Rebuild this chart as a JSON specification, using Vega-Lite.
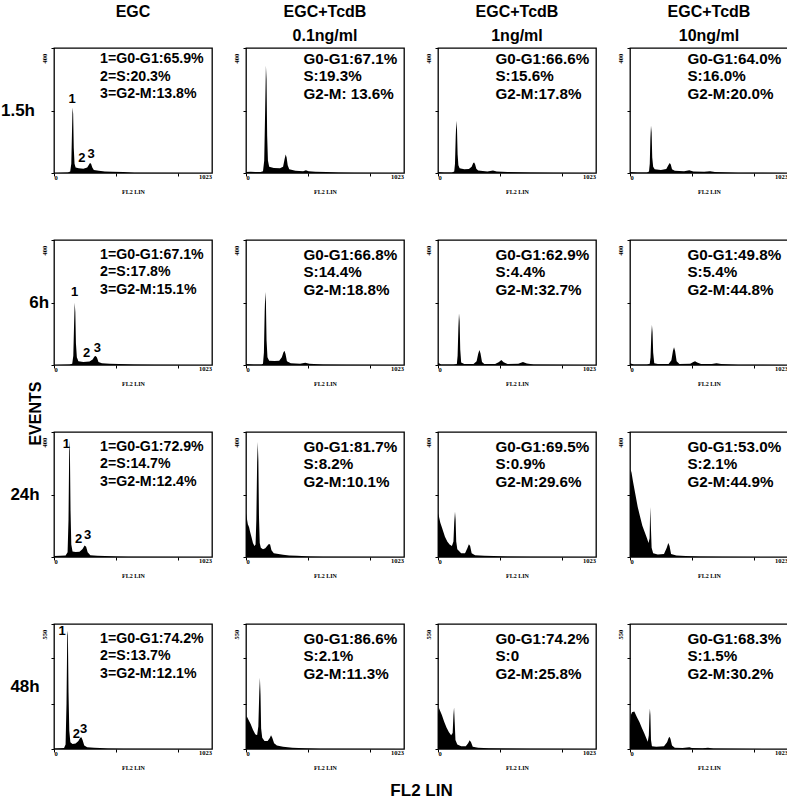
{
"$schema":"https://vega.github.io/schema/vega-lite/v6.json",
"background":"white",
"padding":{"left":0,"top":4,"right":3,"bottom":4},
"title":{"text":"EVENTS","orient":"left","anchor":"middle","font":"Liberation Sans","fontSize":16,"fontWeight":"bold","color":"black","offset":-40,"dy":3,"dx":-12},
"datasets":{"d":[
{"r":"1.5h","c":"EGC","k":"a","t":"1=G0-G1:65.9%\n2=S:20.3%\n3=G2-M:13.8%"},
{"r":"1.5h","c":"EGC+TcdB 0.1ng/ml","k":"a","t":"G0-G1:67.1%\nS:19.3%\nG2-M: 13.6%"},
{"r":"1.5h","c":"EGC+TcdB 1ng/ml","k":"a","t":"G0-G1:66.6%\nS:15.6%\nG2-M:17.8%"},
{"r":"1.5h","c":"EGC+TcdB 10ng/ml","k":"a","t":"G0-G1:64.0%\nS:16.0%\nG2-M:20.0%"},
{"r":"6h","c":"EGC","k":"a","t":"1=G0-G1:67.1%\n2=S:17.8%\n3=G2-M:15.1%"},
{"r":"6h","c":"EGC+TcdB 0.1ng/ml","k":"a","t":"G0-G1:66.8%\nS:14.4%\nG2-M:18.8%"},
{"r":"6h","c":"EGC+TcdB 1ng/ml","k":"a","t":"G0-G1:62.9%\nS:4.4%\nG2-M:32.7%"},
{"r":"6h","c":"EGC+TcdB 10ng/ml","k":"a","t":"G0-G1:49.8%\nS:5.4%\nG2-M:44.8%"},
{"r":"24h","c":"EGC","k":"a","t":"1=G0-G1:72.9%\n2=S:14.7%\n3=G2-M:12.4%"},
{"r":"24h","c":"EGC+TcdB 0.1ng/ml","k":"a","t":"G0-G1:81.7%\nS:8.2%\nG2-M:10.1%"},
{"r":"24h","c":"EGC+TcdB 1ng/ml","k":"a","t":"G0-G1:69.5%\nS:0.9%\nG2-M:29.6%"},
{"r":"24h","c":"EGC+TcdB 10ng/ml","k":"a","t":"G0-G1:53.0%\nS:2.1%\nG2-M:44.9%"},
{"r":"48h","c":"EGC","k":"a","t":"1=G0-G1:74.2%\n2=S:13.7%\n3=G2-M:12.1%"},
{"r":"48h","c":"EGC+TcdB 0.1ng/ml","k":"a","t":"G0-G1:86.6%\nS:2.1%\nG2-M:11.3%"},
{"r":"48h","c":"EGC+TcdB 1ng/ml","k":"a","t":"G0-G1:74.2%\nS:0\nG2-M:25.8%"},
{"r":"48h","c":"EGC+TcdB 10ng/ml","k":"a","t":"G0-G1:68.3%\nS:1.5%\nG2-M:30.2%"},
{"r":"1.5h","c":"EGC","k":"p","t":"1","x":117,"y":236},
{"r":"1.5h","c":"EGC","k":"p","t":"2","x":181,"y":48},
{"r":"1.5h","c":"EGC","k":"p","t":"3","x":241,"y":61},
{"r":"6h","c":"EGC","k":"p","t":"1","x":134,"y":235},
{"r":"6h","c":"EGC","k":"p","t":"2","x":211,"y":37},
{"r":"6h","c":"EGC","k":"p","t":"3","x":280,"y":56},
{"r":"24h","c":"EGC","k":"p","t":"1","x":80,"y":362},
{"r":"24h","c":"EGC","k":"p","t":"2","x":160,"y":59},
{"r":"24h","c":"EGC","k":"p","t":"3","x":218,"y":72},
{"r":"48h","c":"EGC","k":"p","t":"1","x":52,"y":520},
{"r":"48h","c":"EGC","k":"p","t":"2","x":144,"y":67},
{"r":"48h","c":"EGC","k":"p","t":"3","x":192,"y":89},

{"r":"1.5h","c":"EGC","k":"h","x":0,"y":0},{"r":"1.5h","c":"EGC","k":"h","x":90,"y":2},{"r":"1.5h","c":"EGC","k":"h","x":105,"y":5},{"r":"1.5h","c":"EGC","k":"h","x":112,"y":30},{"r":"1.5h","c":"EGC","k":"h","x":116,"y":120},{"r":"1.5h","c":"EGC","k":"h","x":120,"y":210},{"r":"1.5h","c":"EGC","k":"h","x":124,"y":190},{"r":"1.5h","c":"EGC","k":"h","x":128,"y":80},{"r":"1.5h","c":"EGC","k":"h","x":133,"y":30},{"r":"1.5h","c":"EGC","k":"h","x":140,"y":18},{"r":"1.5h","c":"EGC","k":"h","x":160,"y":15},{"r":"1.5h","c":"EGC","k":"h","x":190,"y":14},{"r":"1.5h","c":"EGC","k":"h","x":215,"y":18},{"r":"1.5h","c":"EGC","k":"h","x":225,"y":26},{"r":"1.5h","c":"EGC","k":"h","x":233,"y":32},{"r":"1.5h","c":"EGC","k":"h","x":240,"y":30},{"r":"1.5h","c":"EGC","k":"h","x":248,"y":18},{"r":"1.5h","c":"EGC","k":"h","x":258,"y":10},{"r":"1.5h","c":"EGC","k":"h","x":290,"y":7},{"r":"1.5h","c":"EGC","k":"h","x":330,"y":5},{"r":"1.5h","c":"EGC","k":"h","x":380,"y":4},{"r":"1.5h","c":"EGC","k":"h","x":450,"y":3},{"r":"1.5h","c":"EGC","k":"h","x":520,"y":1},{"r":"1.5h","c":"EGC","k":"h","x":1023,"y":0},

{"r":"1.5h","c":"EGC+TcdB 0.1ng/ml","k":"h","x":0,"y":3},{"r":"1.5h","c":"EGC+TcdB 0.1ng/ml","k":"h","x":30,"y":4},{"r":"1.5h","c":"EGC+TcdB 0.1ng/ml","k":"h","x":60,"y":3},{"r":"1.5h","c":"EGC+TcdB 0.1ng/ml","k":"h","x":95,"y":3},{"r":"1.5h","c":"EGC+TcdB 0.1ng/ml","k":"h","x":110,"y":6},{"r":"1.5h","c":"EGC+TcdB 0.1ng/ml","k":"h","x":118,"y":40},{"r":"1.5h","c":"EGC+TcdB 0.1ng/ml","k":"h","x":124,"y":200},{"r":"1.5h","c":"EGC+TcdB 0.1ng/ml","k":"h","x":129,"y":343},{"r":"1.5h","c":"EGC+TcdB 0.1ng/ml","k":"h","x":133,"y":300},{"r":"1.5h","c":"EGC+TcdB 0.1ng/ml","k":"h","x":137,"y":120},{"r":"1.5h","c":"EGC+TcdB 0.1ng/ml","k":"h","x":142,"y":40},{"r":"1.5h","c":"EGC+TcdB 0.1ng/ml","k":"h","x":150,"y":20},{"r":"1.5h","c":"EGC+TcdB 0.1ng/ml","k":"h","x":180,"y":16},{"r":"1.5h","c":"EGC+TcdB 0.1ng/ml","k":"h","x":220,"y":15},{"r":"1.5h","c":"EGC+TcdB 0.1ng/ml","k":"h","x":240,"y":20},{"r":"1.5h","c":"EGC+TcdB 0.1ng/ml","k":"h","x":250,"y":45},{"r":"1.5h","c":"EGC+TcdB 0.1ng/ml","k":"h","x":257,"y":59},{"r":"1.5h","c":"EGC+TcdB 0.1ng/ml","k":"h","x":263,"y":50},{"r":"1.5h","c":"EGC+TcdB 0.1ng/ml","k":"h","x":270,"y":25},{"r":"1.5h","c":"EGC+TcdB 0.1ng/ml","k":"h","x":280,"y":12},{"r":"1.5h","c":"EGC+TcdB 0.1ng/ml","k":"h","x":320,"y":7},{"r":"1.5h","c":"EGC+TcdB 0.1ng/ml","k":"h","x":370,"y":6},{"r":"1.5h","c":"EGC+TcdB 0.1ng/ml","k":"h","x":388,"y":9},{"r":"1.5h","c":"EGC+TcdB 0.1ng/ml","k":"h","x":405,"y":6},{"r":"1.5h","c":"EGC+TcdB 0.1ng/ml","k":"h","x":450,"y":4},{"r":"1.5h","c":"EGC+TcdB 0.1ng/ml","k":"h","x":520,"y":3},{"r":"1.5h","c":"EGC+TcdB 0.1ng/ml","k":"h","x":600,"y":2},{"r":"1.5h","c":"EGC+TcdB 0.1ng/ml","k":"h","x":700,"y":1},{"r":"1.5h","c":"EGC+TcdB 0.1ng/ml","k":"h","x":1023,"y":0},

{"r":"1.5h","c":"EGC+TcdB 1ng/ml","k":"h","x":0,"y":3},{"r":"1.5h","c":"EGC+TcdB 1ng/ml","k":"h","x":40,"y":2},{"r":"1.5h","c":"EGC+TcdB 1ng/ml","k":"h","x":90,"y":2},{"r":"1.5h","c":"EGC+TcdB 1ng/ml","k":"h","x":105,"y":5},{"r":"1.5h","c":"EGC+TcdB 1ng/ml","k":"h","x":110,"y":30},{"r":"1.5h","c":"EGC+TcdB 1ng/ml","k":"h","x":115,"y":120},{"r":"1.5h","c":"EGC+TcdB 1ng/ml","k":"h","x":119,"y":167},{"r":"1.5h","c":"EGC+TcdB 1ng/ml","k":"h","x":123,"y":140},{"r":"1.5h","c":"EGC+TcdB 1ng/ml","k":"h","x":127,"y":60},{"r":"1.5h","c":"EGC+TcdB 1ng/ml","k":"h","x":132,"y":25},{"r":"1.5h","c":"EGC+TcdB 1ng/ml","k":"h","x":140,"y":15},{"r":"1.5h","c":"EGC+TcdB 1ng/ml","k":"h","x":170,"y":12},{"r":"1.5h","c":"EGC+TcdB 1ng/ml","k":"h","x":200,"y":13},{"r":"1.5h","c":"EGC+TcdB 1ng/ml","k":"h","x":218,"y":20},{"r":"1.5h","c":"EGC+TcdB 1ng/ml","k":"h","x":228,"y":32},{"r":"1.5h","c":"EGC+TcdB 1ng/ml","k":"h","x":234,"y":34},{"r":"1.5h","c":"EGC+TcdB 1ng/ml","k":"h","x":240,"y":28},{"r":"1.5h","c":"EGC+TcdB 1ng/ml","k":"h","x":248,"y":14},{"r":"1.5h","c":"EGC+TcdB 1ng/ml","k":"h","x":260,"y":8},{"r":"1.5h","c":"EGC+TcdB 1ng/ml","k":"h","x":320,"y":5},{"r":"1.5h","c":"EGC+TcdB 1ng/ml","k":"h","x":356,"y":8},{"r":"1.5h","c":"EGC+TcdB 1ng/ml","k":"h","x":380,"y":5},{"r":"1.5h","c":"EGC+TcdB 1ng/ml","k":"h","x":450,"y":3},{"r":"1.5h","c":"EGC+TcdB 1ng/ml","k":"h","x":600,"y":2},{"r":"1.5h","c":"EGC+TcdB 1ng/ml","k":"h","x":750,"y":1},{"r":"1.5h","c":"EGC+TcdB 1ng/ml","k":"h","x":1023,"y":0},

{"r":"1.5h","c":"EGC+TcdB 10ng/ml","k":"h","x":0,"y":3},{"r":"1.5h","c":"EGC+TcdB 10ng/ml","k":"h","x":50,"y":2},{"r":"1.5h","c":"EGC+TcdB 10ng/ml","k":"h","x":110,"y":2},{"r":"1.5h","c":"EGC+TcdB 10ng/ml","k":"h","x":123,"y":5},{"r":"1.5h","c":"EGC+TcdB 10ng/ml","k":"h","x":128,"y":30},{"r":"1.5h","c":"EGC+TcdB 10ng/ml","k":"h","x":132,"y":110},{"r":"1.5h","c":"EGC+TcdB 10ng/ml","k":"h","x":136,"y":151},{"r":"1.5h","c":"EGC+TcdB 10ng/ml","k":"h","x":140,"y":130},{"r":"1.5h","c":"EGC+TcdB 10ng/ml","k":"h","x":144,"y":50},{"r":"1.5h","c":"EGC+TcdB 10ng/ml","k":"h","x":150,"y":20},{"r":"1.5h","c":"EGC+TcdB 10ng/ml","k":"h","x":160,"y":12},{"r":"1.5h","c":"EGC+TcdB 10ng/ml","k":"h","x":200,"y":10},{"r":"1.5h","c":"EGC+TcdB 10ng/ml","k":"h","x":235,"y":13},{"r":"1.5h","c":"EGC+TcdB 10ng/ml","k":"h","x":248,"y":25},{"r":"1.5h","c":"EGC+TcdB 10ng/ml","k":"h","x":257,"y":32},{"r":"1.5h","c":"EGC+TcdB 10ng/ml","k":"h","x":264,"y":27},{"r":"1.5h","c":"EGC+TcdB 10ng/ml","k":"h","x":272,"y":12},{"r":"1.5h","c":"EGC+TcdB 10ng/ml","k":"h","x":290,"y":7},{"r":"1.5h","c":"EGC+TcdB 10ng/ml","k":"h","x":350,"y":6},{"r":"1.5h","c":"EGC+TcdB 10ng/ml","k":"h","x":384,"y":9},{"r":"1.5h","c":"EGC+TcdB 10ng/ml","k":"h","x":410,"y":5},{"r":"1.5h","c":"EGC+TcdB 10ng/ml","k":"h","x":480,"y":4},{"r":"1.5h","c":"EGC+TcdB 10ng/ml","k":"h","x":518,"y":6},{"r":"1.5h","c":"EGC+TcdB 10ng/ml","k":"h","x":550,"y":3},{"r":"1.5h","c":"EGC+TcdB 10ng/ml","k":"h","x":700,"y":1},{"r":"1.5h","c":"EGC+TcdB 10ng/ml","k":"h","x":1023,"y":0},

{"r":"6h","c":"EGC","k":"h","x":0,"y":0},{"r":"6h","c":"EGC","k":"h","x":100,"y":2},{"r":"6h","c":"EGC","k":"h","x":118,"y":4},{"r":"6h","c":"EGC","k":"h","x":125,"y":30},{"r":"6h","c":"EGC","k":"h","x":130,"y":130},{"r":"6h","c":"EGC","k":"h","x":134,"y":199},{"r":"6h","c":"EGC","k":"h","x":138,"y":170},{"r":"6h","c":"EGC","k":"h","x":142,"y":70},{"r":"6h","c":"EGC","k":"h","x":148,"y":25},{"r":"6h","c":"EGC","k":"h","x":158,"y":12},{"r":"6h","c":"EGC","k":"h","x":190,"y":10},{"r":"6h","c":"EGC","k":"h","x":230,"y":11},{"r":"6h","c":"EGC","k":"h","x":250,"y":18},{"r":"6h","c":"EGC","k":"h","x":262,"y":27},{"r":"6h","c":"EGC","k":"h","x":270,"y":29},{"r":"6h","c":"EGC","k":"h","x":278,"y":24},{"r":"6h","c":"EGC","k":"h","x":288,"y":10},{"r":"6h","c":"EGC","k":"h","x":310,"y":6},{"r":"6h","c":"EGC","k":"h","x":360,"y":4},{"r":"6h","c":"EGC","k":"h","x":420,"y":3},{"r":"6h","c":"EGC","k":"h","x":520,"y":2},{"r":"6h","c":"EGC","k":"h","x":650,"y":1},{"r":"6h","c":"EGC","k":"h","x":1023,"y":0},

{"r":"6h","c":"EGC+TcdB 0.1ng/ml","k":"h","x":0,"y":3},{"r":"6h","c":"EGC+TcdB 0.1ng/ml","k":"h","x":50,"y":2},{"r":"6h","c":"EGC+TcdB 0.1ng/ml","k":"h","x":100,"y":2},{"r":"6h","c":"EGC+TcdB 0.1ng/ml","k":"h","x":110,"y":4},{"r":"6h","c":"EGC+TcdB 0.1ng/ml","k":"h","x":116,"y":40},{"r":"6h","c":"EGC+TcdB 0.1ng/ml","k":"h","x":121,"y":170},{"r":"6h","c":"EGC+TcdB 0.1ng/ml","k":"h","x":125,"y":234},{"r":"6h","c":"EGC+TcdB 0.1ng/ml","k":"h","x":129,"y":200},{"r":"6h","c":"EGC+TcdB 0.1ng/ml","k":"h","x":133,"y":80},{"r":"6h","c":"EGC+TcdB 0.1ng/ml","k":"h","x":139,"y":25},{"r":"6h","c":"EGC+TcdB 0.1ng/ml","k":"h","x":150,"y":14},{"r":"6h","c":"EGC+TcdB 0.1ng/ml","k":"h","x":185,"y":13},{"r":"6h","c":"EGC+TcdB 0.1ng/ml","k":"h","x":215,"y":14},{"r":"6h","c":"EGC+TcdB 0.1ng/ml","k":"h","x":232,"y":25},{"r":"6h","c":"EGC+TcdB 0.1ng/ml","k":"h","x":242,"y":40},{"r":"6h","c":"EGC+TcdB 0.1ng/ml","k":"h","x":249,"y":46},{"r":"6h","c":"EGC+TcdB 0.1ng/ml","k":"h","x":256,"y":35},{"r":"6h","c":"EGC+TcdB 0.1ng/ml","k":"h","x":265,"y":12},{"r":"6h","c":"EGC+TcdB 0.1ng/ml","k":"h","x":290,"y":6},{"r":"6h","c":"EGC+TcdB 0.1ng/ml","k":"h","x":350,"y":4},{"r":"6h","c":"EGC+TcdB 0.1ng/ml","k":"h","x":384,"y":7},{"r":"6h","c":"EGC+TcdB 0.1ng/ml","k":"h","x":410,"y":4},{"r":"6h","c":"EGC+TcdB 0.1ng/ml","k":"h","x":500,"y":2},{"r":"6h","c":"EGC+TcdB 0.1ng/ml","k":"h","x":650,"y":1},{"r":"6h","c":"EGC+TcdB 0.1ng/ml","k":"h","x":1023,"y":0},

{"r":"6h","c":"EGC+TcdB 1ng/ml","k":"h","x":0,"y":6},{"r":"6h","c":"EGC+TcdB 1ng/ml","k":"h","x":10,"y":5},{"r":"6h","c":"EGC+TcdB 1ng/ml","k":"h","x":20,"y":2},{"r":"6h","c":"EGC+TcdB 1ng/ml","k":"h","x":100,"y":2},{"r":"6h","c":"EGC+TcdB 1ng/ml","k":"h","x":122,"y":3},{"r":"6h","c":"EGC+TcdB 1ng/ml","k":"h","x":127,"y":30},{"r":"6h","c":"EGC+TcdB 1ng/ml","k":"h","x":132,"y":120},{"r":"6h","c":"EGC+TcdB 1ng/ml","k":"h","x":136,"y":165},{"r":"6h","c":"EGC+TcdB 1ng/ml","k":"h","x":140,"y":140},{"r":"6h","c":"EGC+TcdB 1ng/ml","k":"h","x":144,"y":50},{"r":"6h","c":"EGC+TcdB 1ng/ml","k":"h","x":150,"y":8},{"r":"6h","c":"EGC+TcdB 1ng/ml","k":"h","x":170,"y":3},{"r":"6h","c":"EGC+TcdB 1ng/ml","k":"h","x":230,"y":3},{"r":"6h","c":"EGC+TcdB 1ng/ml","k":"h","x":250,"y":12},{"r":"6h","c":"EGC+TcdB 1ng/ml","k":"h","x":260,"y":35},{"r":"6h","c":"EGC+TcdB 1ng/ml","k":"h","x":268,"y":48},{"r":"6h","c":"EGC+TcdB 1ng/ml","k":"h","x":275,"y":38},{"r":"6h","c":"EGC+TcdB 1ng/ml","k":"h","x":285,"y":10},{"r":"6h","c":"EGC+TcdB 1ng/ml","k":"h","x":300,"y":3},{"r":"6h","c":"EGC+TcdB 1ng/ml","k":"h","x":370,"y":3},{"r":"6h","c":"EGC+TcdB 1ng/ml","k":"h","x":395,"y":10},{"r":"6h","c":"EGC+TcdB 1ng/ml","k":"h","x":410,"y":16},{"r":"6h","c":"EGC+TcdB 1ng/ml","k":"h","x":425,"y":9},{"r":"6h","c":"EGC+TcdB 1ng/ml","k":"h","x":450,"y":3},{"r":"6h","c":"EGC+TcdB 1ng/ml","k":"h","x":520,"y":4},{"r":"6h","c":"EGC+TcdB 1ng/ml","k":"h","x":550,"y":10},{"r":"6h","c":"EGC+TcdB 1ng/ml","k":"h","x":575,"y":5},{"r":"6h","c":"EGC+TcdB 1ng/ml","k":"h","x":620,"y":2},{"r":"6h","c":"EGC+TcdB 1ng/ml","k":"h","x":800,"y":1},{"r":"6h","c":"EGC+TcdB 1ng/ml","k":"h","x":1023,"y":0},

{"r":"6h","c":"EGC+TcdB 10ng/ml","k":"h","x":0,"y":5},{"r":"6h","c":"EGC+TcdB 10ng/ml","k":"h","x":10,"y":4},{"r":"6h","c":"EGC+TcdB 10ng/ml","k":"h","x":25,"y":2},{"r":"6h","c":"EGC+TcdB 10ng/ml","k":"h","x":110,"y":2},{"r":"6h","c":"EGC+TcdB 10ng/ml","k":"h","x":128,"y":4},{"r":"6h","c":"EGC+TcdB 10ng/ml","k":"h","x":133,"y":25},{"r":"6h","c":"EGC+TcdB 10ng/ml","k":"h","x":138,"y":95},{"r":"6h","c":"EGC+TcdB 10ng/ml","k":"h","x":142,"y":128},{"r":"6h","c":"EGC+TcdB 10ng/ml","k":"h","x":146,"y":105},{"r":"6h","c":"EGC+TcdB 10ng/ml","k":"h","x":150,"y":40},{"r":"6h","c":"EGC+TcdB 10ng/ml","k":"h","x":157,"y":6},{"r":"6h","c":"EGC+TcdB 10ng/ml","k":"h","x":180,"y":3},{"r":"6h","c":"EGC+TcdB 10ng/ml","k":"h","x":250,"y":3},{"r":"6h","c":"EGC+TcdB 10ng/ml","k":"h","x":268,"y":15},{"r":"6h","c":"EGC+TcdB 10ng/ml","k":"h","x":278,"y":45},{"r":"6h","c":"EGC+TcdB 10ng/ml","k":"h","x":285,"y":57},{"r":"6h","c":"EGC+TcdB 10ng/ml","k":"h","x":292,"y":45},{"r":"6h","c":"EGC+TcdB 10ng/ml","k":"h","x":302,"y":12},{"r":"6h","c":"EGC+TcdB 10ng/ml","k":"h","x":320,"y":3},{"r":"6h","c":"EGC+TcdB 10ng/ml","k":"h","x":390,"y":4},{"r":"6h","c":"EGC+TcdB 10ng/ml","k":"h","x":410,"y":10},{"r":"6h","c":"EGC+TcdB 10ng/ml","k":"h","x":421,"y":12},{"r":"6h","c":"EGC+TcdB 10ng/ml","k":"h","x":435,"y":8},{"r":"6h","c":"EGC+TcdB 10ng/ml","k":"h","x":460,"y":3},{"r":"6h","c":"EGC+TcdB 10ng/ml","k":"h","x":530,"y":3},{"r":"6h","c":"EGC+TcdB 10ng/ml","k":"h","x":560,"y":6},{"r":"6h","c":"EGC+TcdB 10ng/ml","k":"h","x":590,"y":3},{"r":"6h","c":"EGC+TcdB 10ng/ml","k":"h","x":700,"y":1},{"r":"6h","c":"EGC+TcdB 10ng/ml","k":"h","x":1023,"y":0},

{"r":"24h","c":"EGC","k":"h","x":0,"y":3},{"r":"24h","c":"EGC","k":"h","x":40,"y":4},{"r":"24h","c":"EGC","k":"h","x":75,"y":5},{"r":"24h","c":"EGC","k":"h","x":88,"y":15},{"r":"24h","c":"EGC","k":"h","x":94,"y":120},{"r":"24h","c":"EGC","k":"h","x":99,"y":372},{"r":"24h","c":"EGC","k":"h","x":103,"y":340},{"r":"24h","c":"EGC","k":"h","x":107,"y":150},{"r":"24h","c":"EGC","k":"h","x":112,"y":40},{"r":"24h","c":"EGC","k":"h","x":120,"y":18},{"r":"24h","c":"EGC","k":"h","x":140,"y":16},{"r":"24h","c":"EGC","k":"h","x":165,"y":17},{"r":"24h","c":"EGC","k":"h","x":185,"y":26},{"r":"24h","c":"EGC","k":"h","x":198,"y":37},{"r":"24h","c":"EGC","k":"h","x":208,"y":33},{"r":"24h","c":"EGC","k":"h","x":218,"y":15},{"r":"24h","c":"EGC","k":"h","x":235,"y":6},{"r":"24h","c":"EGC","k":"h","x":280,"y":4},{"r":"24h","c":"EGC","k":"h","x":330,"y":3},{"r":"24h","c":"EGC","k":"h","x":408,"y":2},{"r":"24h","c":"EGC","k":"h","x":480,"y":1},{"r":"24h","c":"EGC","k":"h","x":1023,"y":0},

{"r":"24h","c":"EGC+TcdB 0.1ng/ml","k":"h","x":0,"y":140},{"r":"24h","c":"EGC+TcdB 0.1ng/ml","k":"h","x":5,"y":125},{"r":"24h","c":"EGC+TcdB 0.1ng/ml","k":"h","x":12,"y":105},{"r":"24h","c":"EGC+TcdB 0.1ng/ml","k":"h","x":20,"y":95},{"r":"24h","c":"EGC+TcdB 0.1ng/ml","k":"h","x":26,"y":82},{"r":"24h","c":"EGC+TcdB 0.1ng/ml","k":"h","x":35,"y":65},{"r":"24h","c":"EGC+TcdB 0.1ng/ml","k":"h","x":45,"y":45},{"r":"24h","c":"EGC+TcdB 0.1ng/ml","k":"h","x":55,"y":35},{"r":"24h","c":"EGC+TcdB 0.1ng/ml","k":"h","x":62,"y":40},{"r":"24h","c":"EGC+TcdB 0.1ng/ml","k":"h","x":67,"y":120},{"r":"24h","c":"EGC+TcdB 0.1ng/ml","k":"h","x":72,"y":300},{"r":"24h","c":"EGC+TcdB 0.1ng/ml","k":"h","x":76,"y":368},{"r":"24h","c":"EGC+TcdB 0.1ng/ml","k":"h","x":80,"y":310},{"r":"24h","c":"EGC+TcdB 0.1ng/ml","k":"h","x":84,"y":130},{"r":"24h","c":"EGC+TcdB 0.1ng/ml","k":"h","x":89,"y":45},{"r":"24h","c":"EGC+TcdB 0.1ng/ml","k":"h","x":96,"y":30},{"r":"24h","c":"EGC+TcdB 0.1ng/ml","k":"h","x":110,"y":25},{"r":"24h","c":"EGC+TcdB 0.1ng/ml","k":"h","x":125,"y":28},{"r":"24h","c":"EGC+TcdB 0.1ng/ml","k":"h","x":138,"y":36},{"r":"24h","c":"EGC+TcdB 0.1ng/ml","k":"h","x":148,"y":42},{"r":"24h","c":"EGC+TcdB 0.1ng/ml","k":"h","x":156,"y":40},{"r":"24h","c":"EGC+TcdB 0.1ng/ml","k":"h","x":165,"y":22},{"r":"24h","c":"EGC+TcdB 0.1ng/ml","k":"h","x":180,"y":12},{"r":"24h","c":"EGC+TcdB 0.1ng/ml","k":"h","x":210,"y":10},{"r":"24h","c":"EGC+TcdB 0.1ng/ml","k":"h","x":240,"y":7},{"r":"24h","c":"EGC+TcdB 0.1ng/ml","k":"h","x":280,"y":5},{"r":"24h","c":"EGC+TcdB 0.1ng/ml","k":"h","x":330,"y":4},{"r":"24h","c":"EGC+TcdB 0.1ng/ml","k":"h","x":420,"y":2},{"r":"24h","c":"EGC+TcdB 0.1ng/ml","k":"h","x":500,"y":1},{"r":"24h","c":"EGC+TcdB 0.1ng/ml","k":"h","x":1023,"y":0},

{"r":"24h","c":"EGC+TcdB 1ng/ml","k":"h","x":0,"y":140},{"r":"24h","c":"EGC+TcdB 1ng/ml","k":"h","x":6,"y":130},{"r":"24h","c":"EGC+TcdB 1ng/ml","k":"h","x":15,"y":110},{"r":"24h","c":"EGC+TcdB 1ng/ml","k":"h","x":25,"y":95},{"r":"24h","c":"EGC+TcdB 1ng/ml","k":"h","x":35,"y":80},{"r":"24h","c":"EGC+TcdB 1ng/ml","k":"h","x":45,"y":65},{"r":"24h","c":"EGC+TcdB 1ng/ml","k":"h","x":60,"y":50},{"r":"24h","c":"EGC+TcdB 1ng/ml","k":"h","x":75,"y":40},{"r":"24h","c":"EGC+TcdB 1ng/ml","k":"h","x":90,"y":35},{"r":"24h","c":"EGC+TcdB 1ng/ml","k":"h","x":100,"y":50},{"r":"24h","c":"EGC+TcdB 1ng/ml","k":"h","x":105,"y":110},{"r":"24h","c":"EGC+TcdB 1ng/ml","k":"h","x":110,"y":145},{"r":"24h","c":"EGC+TcdB 1ng/ml","k":"h","x":114,"y":120},{"r":"24h","c":"EGC+TcdB 1ng/ml","k":"h","x":118,"y":50},{"r":"24h","c":"EGC+TcdB 1ng/ml","k":"h","x":125,"y":25},{"r":"24h","c":"EGC+TcdB 1ng/ml","k":"h","x":150,"y":12},{"r":"24h","c":"EGC+TcdB 1ng/ml","k":"h","x":175,"y":12},{"r":"24h","c":"EGC+TcdB 1ng/ml","k":"h","x":190,"y":28},{"r":"24h","c":"EGC+TcdB 1ng/ml","k":"h","x":200,"y":41},{"r":"24h","c":"EGC+TcdB 1ng/ml","k":"h","x":208,"y":35},{"r":"24h","c":"EGC+TcdB 1ng/ml","k":"h","x":218,"y":12},{"r":"24h","c":"EGC+TcdB 1ng/ml","k":"h","x":240,"y":6},{"r":"24h","c":"EGC+TcdB 1ng/ml","k":"h","x":300,"y":4},{"r":"24h","c":"EGC+TcdB 1ng/ml","k":"h","x":360,"y":3},{"r":"24h","c":"EGC+TcdB 1ng/ml","k":"h","x":450,"y":2},{"r":"24h","c":"EGC+TcdB 1ng/ml","k":"h","x":600,"y":1},{"r":"24h","c":"EGC+TcdB 1ng/ml","k":"h","x":1023,"y":0},

{"r":"24h","c":"EGC+TcdB 10ng/ml","k":"h","x":0,"y":200},{"r":"24h","c":"EGC+TcdB 10ng/ml","k":"h","x":4,"y":280},{"r":"24h","c":"EGC+TcdB 10ng/ml","k":"h","x":10,"y":270},{"r":"24h","c":"EGC+TcdB 10ng/ml","k":"h","x":20,"y":240},{"r":"24h","c":"EGC+TcdB 10ng/ml","k":"h","x":35,"y":200},{"r":"24h","c":"EGC+TcdB 10ng/ml","k":"h","x":50,"y":160},{"r":"24h","c":"EGC+TcdB 10ng/ml","k":"h","x":65,"y":130},{"r":"24h","c":"EGC+TcdB 10ng/ml","k":"h","x":80,"y":100},{"r":"24h","c":"EGC+TcdB 10ng/ml","k":"h","x":95,"y":80},{"r":"24h","c":"EGC+TcdB 10ng/ml","k":"h","x":110,"y":60},{"r":"24h","c":"EGC+TcdB 10ng/ml","k":"h","x":120,"y":45},{"r":"24h","c":"EGC+TcdB 10ng/ml","k":"h","x":127,"y":60},{"r":"24h","c":"EGC+TcdB 10ng/ml","k":"h","x":131,"y":160},{"r":"24h","c":"EGC+TcdB 10ng/ml","k":"h","x":135,"y":100},{"r":"24h","c":"EGC+TcdB 10ng/ml","k":"h","x":140,"y":30},{"r":"24h","c":"EGC+TcdB 10ng/ml","k":"h","x":150,"y":12},{"r":"24h","c":"EGC+TcdB 10ng/ml","k":"h","x":180,"y":8},{"r":"24h","c":"EGC+TcdB 10ng/ml","k":"h","x":220,"y":10},{"r":"24h","c":"EGC+TcdB 10ng/ml","k":"h","x":238,"y":30},{"r":"24h","c":"EGC+TcdB 10ng/ml","k":"h","x":248,"y":45},{"r":"24h","c":"EGC+TcdB 10ng/ml","k":"h","x":256,"y":35},{"r":"24h","c":"EGC+TcdB 10ng/ml","k":"h","x":266,"y":10},{"r":"24h","c":"EGC+TcdB 10ng/ml","k":"h","x":300,"y":5},{"r":"24h","c":"EGC+TcdB 10ng/ml","k":"h","x":360,"y":3},{"r":"24h","c":"EGC+TcdB 10ng/ml","k":"h","x":450,"y":2},{"r":"24h","c":"EGC+TcdB 10ng/ml","k":"h","x":600,"y":1},{"r":"24h","c":"EGC+TcdB 10ng/ml","k":"h","x":1023,"y":0},

{"r":"48h","c":"EGC","k":"h","x":0,"y":2},{"r":"48h","c":"EGC","k":"h","x":40,"y":3},{"r":"48h","c":"EGC","k":"h","x":65,"y":4},{"r":"48h","c":"EGC","k":"h","x":75,"y":20},{"r":"48h","c":"EGC","k":"h","x":81,"y":200},{"r":"48h","c":"EGC","k":"h","x":86,"y":520},{"r":"48h","c":"EGC","k":"h","x":90,"y":500},{"r":"48h","c":"EGC","k":"h","x":94,"y":250},{"r":"48h","c":"EGC","k":"h","x":99,"y":80},{"r":"48h","c":"EGC","k":"h","x":106,"y":30},{"r":"48h","c":"EGC","k":"h","x":120,"y":22},{"r":"48h","c":"EGC","k":"h","x":140,"y":24},{"r":"48h","c":"EGC","k":"h","x":158,"y":35},{"r":"48h","c":"EGC","k":"h","x":170,"y":50},{"r":"48h","c":"EGC","k":"h","x":177,"y":52},{"r":"48h","c":"EGC","k":"h","x":185,"y":40},{"r":"48h","c":"EGC","k":"h","x":196,"y":15},{"r":"48h","c":"EGC","k":"h","x":215,"y":8},{"r":"48h","c":"EGC","k":"h","x":260,"y":6},{"r":"48h","c":"EGC","k":"h","x":298,"y":4},{"r":"48h","c":"EGC","k":"h","x":350,"y":2},{"r":"48h","c":"EGC","k":"h","x":450,"y":1},{"r":"48h","c":"EGC","k":"h","x":1023,"y":0},

{"r":"48h","c":"EGC+TcdB 0.1ng/ml","k":"h","x":0,"y":130},{"r":"48h","c":"EGC+TcdB 0.1ng/ml","k":"h","x":5,"y":144},{"r":"48h","c":"EGC+TcdB 0.1ng/ml","k":"h","x":15,"y":130},{"r":"48h","c":"EGC+TcdB 0.1ng/ml","k":"h","x":30,"y":110},{"r":"48h","c":"EGC+TcdB 0.1ng/ml","k":"h","x":45,"y":85},{"r":"48h","c":"EGC+TcdB 0.1ng/ml","k":"h","x":60,"y":65},{"r":"48h","c":"EGC+TcdB 0.1ng/ml","k":"h","x":72,"y":60},{"r":"48h","c":"EGC+TcdB 0.1ng/ml","k":"h","x":80,"y":100},{"r":"48h","c":"EGC+TcdB 0.1ng/ml","k":"h","x":86,"y":250},{"r":"48h","c":"EGC+TcdB 0.1ng/ml","k":"h","x":90,"y":313},{"r":"48h","c":"EGC+TcdB 0.1ng/ml","k":"h","x":94,"y":240},{"r":"48h","c":"EGC+TcdB 0.1ng/ml","k":"h","x":98,"y":90},{"r":"48h","c":"EGC+TcdB 0.1ng/ml","k":"h","x":105,"y":50},{"r":"48h","c":"EGC+TcdB 0.1ng/ml","k":"h","x":120,"y":35},{"r":"48h","c":"EGC+TcdB 0.1ng/ml","k":"h","x":140,"y":35},{"r":"48h","c":"EGC+TcdB 0.1ng/ml","k":"h","x":155,"y":50},{"r":"48h","c":"EGC+TcdB 0.1ng/ml","k":"h","x":162,"y":61},{"r":"48h","c":"EGC+TcdB 0.1ng/ml","k":"h","x":170,"y":50},{"r":"48h","c":"EGC+TcdB 0.1ng/ml","k":"h","x":182,"y":25},{"r":"48h","c":"EGC+TcdB 0.1ng/ml","k":"h","x":200,"y":15},{"r":"48h","c":"EGC+TcdB 0.1ng/ml","k":"h","x":240,"y":10},{"r":"48h","c":"EGC+TcdB 0.1ng/ml","k":"h","x":300,"y":6},{"r":"48h","c":"EGC+TcdB 0.1ng/ml","k":"h","x":380,"y":3},{"r":"48h","c":"EGC+TcdB 0.1ng/ml","k":"h","x":480,"y":1},{"r":"48h","c":"EGC+TcdB 0.1ng/ml","k":"h","x":1023,"y":0},

{"r":"48h","c":"EGC+TcdB 1ng/ml","k":"h","x":0,"y":150},{"r":"48h","c":"EGC+TcdB 1ng/ml","k":"h","x":5,"y":183},{"r":"48h","c":"EGC+TcdB 1ng/ml","k":"h","x":12,"y":170},{"r":"48h","c":"EGC+TcdB 1ng/ml","k":"h","x":25,"y":150},{"r":"48h","c":"EGC+TcdB 1ng/ml","k":"h","x":40,"y":120},{"r":"48h","c":"EGC+TcdB 1ng/ml","k":"h","x":55,"y":95},{"r":"48h","c":"EGC+TcdB 1ng/ml","k":"h","x":70,"y":75},{"r":"48h","c":"EGC+TcdB 1ng/ml","k":"h","x":85,"y":60},{"r":"48h","c":"EGC+TcdB 1ng/ml","k":"h","x":95,"y":70},{"r":"48h","c":"EGC+TcdB 1ng/ml","k":"h","x":100,"y":150},{"r":"48h","c":"EGC+TcdB 1ng/ml","k":"h","x":104,"y":183},{"r":"48h","c":"EGC+TcdB 1ng/ml","k":"h","x":108,"y":120},{"r":"48h","c":"EGC+TcdB 1ng/ml","k":"h","x":113,"y":40},{"r":"48h","c":"EGC+TcdB 1ng/ml","k":"h","x":125,"y":20},{"r":"48h","c":"EGC+TcdB 1ng/ml","k":"h","x":150,"y":12},{"r":"48h","c":"EGC+TcdB 1ng/ml","k":"h","x":180,"y":12},{"r":"48h","c":"EGC+TcdB 1ng/ml","k":"h","x":195,"y":25},{"r":"48h","c":"EGC+TcdB 1ng/ml","k":"h","x":205,"y":39},{"r":"48h","c":"EGC+TcdB 1ng/ml","k":"h","x":214,"y":30},{"r":"48h","c":"EGC+TcdB 1ng/ml","k":"h","x":225,"y":10},{"r":"48h","c":"EGC+TcdB 1ng/ml","k":"h","x":260,"y":5},{"r":"48h","c":"EGC+TcdB 1ng/ml","k":"h","x":330,"y":3},{"r":"48h","c":"EGC+TcdB 1ng/ml","k":"h","x":450,"y":2},{"r":"48h","c":"EGC+TcdB 1ng/ml","k":"h","x":600,"y":1},{"r":"48h","c":"EGC+TcdB 1ng/ml","k":"h","x":1023,"y":0},

{"r":"48h","c":"EGC+TcdB 10ng/ml","k":"h","x":0,"y":100},{"r":"48h","c":"EGC+TcdB 10ng/ml","k":"h","x":6,"y":150},{"r":"48h","c":"EGC+TcdB 10ng/ml","k":"h","x":13,"y":162},{"r":"48h","c":"EGC+TcdB 10ng/ml","k":"h","x":28,"y":165},{"r":"48h","c":"EGC+TcdB 10ng/ml","k":"h","x":45,"y":140},{"r":"48h","c":"EGC+TcdB 10ng/ml","k":"h","x":61,"y":119},{"r":"48h","c":"EGC+TcdB 10ng/ml","k":"h","x":77,"y":92},{"r":"48h","c":"EGC+TcdB 10ng/ml","k":"h","x":93,"y":68},{"r":"48h","c":"EGC+TcdB 10ng/ml","k":"h","x":105,"y":48},{"r":"48h","c":"EGC+TcdB 10ng/ml","k":"h","x":115,"y":32},{"r":"48h","c":"EGC+TcdB 10ng/ml","k":"h","x":122,"y":60},{"r":"48h","c":"EGC+TcdB 10ng/ml","k":"h","x":126,"y":150},{"r":"48h","c":"EGC+TcdB 10ng/ml","k":"h","x":129,"y":177},{"r":"48h","c":"EGC+TcdB 10ng/ml","k":"h","x":132,"y":150},{"r":"48h","c":"EGC+TcdB 10ng/ml","k":"h","x":136,"y":40},{"r":"48h","c":"EGC+TcdB 10ng/ml","k":"h","x":142,"y":12},{"r":"48h","c":"EGC+TcdB 10ng/ml","k":"h","x":170,"y":10},{"r":"48h","c":"EGC+TcdB 10ng/ml","k":"h","x":220,"y":12},{"r":"48h","c":"EGC+TcdB 10ng/ml","k":"h","x":240,"y":30},{"r":"48h","c":"EGC+TcdB 10ng/ml","k":"h","x":250,"y":48},{"r":"48h","c":"EGC+TcdB 10ng/ml","k":"h","x":255,"y":54},{"r":"48h","c":"EGC+TcdB 10ng/ml","k":"h","x":262,"y":45},{"r":"48h","c":"EGC+TcdB 10ng/ml","k":"h","x":272,"y":15},{"r":"48h","c":"EGC+TcdB 10ng/ml","k":"h","x":290,"y":6},{"r":"48h","c":"EGC+TcdB 10ng/ml","k":"h","x":340,"y":4},{"r":"48h","c":"EGC+TcdB 10ng/ml","k":"h","x":385,"y":8},{"r":"48h","c":"EGC+TcdB 10ng/ml","k":"h","x":400,"y":4},{"r":"48h","c":"EGC+TcdB 10ng/ml","k":"h","x":470,"y":3},{"r":"48h","c":"EGC+TcdB 10ng/ml","k":"h","x":505,"y":5},{"r":"48h","c":"EGC+TcdB 10ng/ml","k":"h","x":540,"y":2},{"r":"48h","c":"EGC+TcdB 10ng/ml","k":"h","x":700,"y":1},{"r":"48h","c":"EGC+TcdB 10ng/ml","k":"h","x":1023,"y":0}
]},
"spacing":42,
"vconcat":[
{
"data":{"name":"d"},
"transform":[{"filter":"datum.r=='1.5h'"}],
"spacing":{"column":19,"row":0},
"facet":{
 "row":{"field":"r","type":"nominal","header":{"title":null,"labelAngle":0,"labelAlign":"right","labelFontSize":17,"labelPadding":-29}},
 "column":{"field":"c","type":"nominal","sort":["EGC","EGC+TcdB 0.1ng/ml","EGC+TcdB 1ng/ml","EGC+TcdB 10ng/ml"],"header":{"title":null,"labelExpr":"datum.value=='EGC' ? ['EGC',' '] : split(datum.value,' ')","labelFontSize":16,"labelLineHeight":24,"labelPadding":2}}
},
"spec":{"width":158,"height":125,"layer":[
 {"transform":[{"filter":"datum.k=='h'"}],"mark":{"type":"area","color":"black","interpolate":"linear"},
  "encoding":{
   "x":{"field":"x","type":"quantitative","scale":{"domain":[0,1023],"nice":false,"zero":false},"axis":{"values":[0,100,200,300,400,500,600,700,800,900,1000],"labelExpr":"datum.value<1 ? '0' : ''","labelFlush":true,"labelOverlap":false,"labelBound":false,"title":"FL2 LIN","titlePadding":8,"labelPadding":-2}},
   "y":{"field":"y","type":"quantitative","scale":{"domain":[0,400],"nice":false},"axis":{"values":[0,100,200,300,400],"labelExpr":"datum.value==400 ? '400' : ''","labelAngle":270,"labelAlign":"center","labelBaseline":"bottom","labelOffset":10,"labelPadding":4,"title":null}}}},
 {"transform":[{"filter":"datum.k=='a'"}],"mark":{"type":"text","align":"right","baseline":"top","dy":1,"font":"Liberation Serif","fontWeight":"bold","fontSize":6.5,"color":"black"},
  "encoding":{"x":{"datum":1023},"y":{"datum":0},"text":{"value":"1023"}}},
 {"transform":[{"filter":"datum.k=='a' && datum.c=='EGC'"}],"mark":{"type":"text","align":"left","baseline":"top","font":"Liberation Sans","fontWeight":"bold","fontSize":14.2,"lineHeight":17.5,"lineBreak":"\n","color":"black"},
  "encoding":{"x":{"datum":298},"y":{"datum":386},"text":{"field":"t"}}},
 {"transform":[{"filter":"datum.k=='a' && datum.c!='EGC'"}],"mark":{"type":"text","align":"left","baseline":"top","font":"Liberation Sans","fontWeight":"bold","fontSize":15.2,"lineHeight":17.5,"lineBreak":"\n","color":"black"},
  "encoding":{"x":{"datum":372},"y":{"datum":388},"text":{"field":"t"}}},
 {"transform":[{"filter":"datum.k=='p'"}],"mark":{"type":"text","align":"center","baseline":"middle","font":"Liberation Sans","fontWeight":"bold","fontSize":13,"color":"black"},
  "encoding":{"x":{"field":"x","type":"quantitative"},"y":{"field":"y","type":"quantitative"},"text":{"field":"t"}}}
]},
"resolve":{"axis":{"x":"independent","y":"independent"}}
},
{
"data":{"name":"d"},
"transform":[{"filter":"datum.r=='6h'"}],
"spacing":{"column":19,"row":0},
"facet":{
 "row":{"field":"r","type":"nominal","header":{"title":null,"labelAngle":0,"labelAlign":"right","labelFontSize":17,"labelPadding":-29}},
 "column":{"field":"c","type":"nominal","sort":["EGC","EGC+TcdB 0.1ng/ml","EGC+TcdB 1ng/ml","EGC+TcdB 10ng/ml"],"header":{"title":null,"labels":false}}
},
"spec":{"width":158,"height":125,"layer":[
 {"transform":[{"filter":"datum.k=='h'"}],"mark":{"type":"area","color":"black","interpolate":"linear"},
  "encoding":{
   "x":{"field":"x","type":"quantitative","scale":{"domain":[0,1023],"nice":false,"zero":false},"axis":{"values":[0,100,200,300,400,500,600,700,800,900,1000],"labelExpr":"datum.value<1 ? '0' : ''","labelFlush":true,"labelOverlap":false,"labelBound":false,"title":"FL2 LIN","titlePadding":8,"labelPadding":-2}},
   "y":{"field":"y","type":"quantitative","scale":{"domain":[0,400],"nice":false},"axis":{"values":[0,100,200,300,400],"labelExpr":"datum.value==400 ? '400' : ''","labelAngle":270,"labelAlign":"center","labelBaseline":"bottom","labelOffset":10,"labelPadding":4,"title":null}}}},
 {"transform":[{"filter":"datum.k=='a'"}],"mark":{"type":"text","align":"right","baseline":"top","dy":1,"font":"Liberation Serif","fontWeight":"bold","fontSize":6.5,"color":"black"},
  "encoding":{"x":{"datum":1023},"y":{"datum":0},"text":{"value":"1023"}}},
 {"transform":[{"filter":"datum.k=='a' && datum.c=='EGC'"}],"mark":{"type":"text","align":"left","baseline":"top","font":"Liberation Sans","fontWeight":"bold","fontSize":14.2,"lineHeight":17.5,"lineBreak":"\n","color":"black"},
  "encoding":{"x":{"datum":298},"y":{"datum":376},"text":{"field":"t"}}},
 {"transform":[{"filter":"datum.k=='a' && datum.c!='EGC'"}],"mark":{"type":"text","align":"left","baseline":"top","font":"Liberation Sans","fontWeight":"bold","fontSize":15.2,"lineHeight":17.5,"lineBreak":"\n","color":"black"},
  "encoding":{"x":{"datum":372},"y":{"datum":376},"text":{"field":"t"}}},
 {"transform":[{"filter":"datum.k=='p'"}],"mark":{"type":"text","align":"center","baseline":"middle","font":"Liberation Sans","fontWeight":"bold","fontSize":13,"color":"black"},
  "encoding":{"x":{"field":"x","type":"quantitative"},"y":{"field":"y","type":"quantitative"},"text":{"field":"t"}}}
]},
"resolve":{"axis":{"x":"independent","y":"independent"}}
},
{
"data":{"name":"d"},
"transform":[{"filter":"datum.r=='24h'"}],
"spacing":{"column":19,"row":0},
"facet":{
 "row":{"field":"r","type":"nominal","header":{"title":null,"labelAngle":0,"labelAlign":"right","labelFontSize":17,"labelPadding":-29}},
 "column":{"field":"c","type":"nominal","sort":["EGC","EGC+TcdB 0.1ng/ml","EGC+TcdB 1ng/ml","EGC+TcdB 10ng/ml"],"header":{"title":null,"labels":false}}
},
"spec":{"width":158,"height":125,"layer":[
 {"transform":[{"filter":"datum.k=='h'"}],"mark":{"type":"area","color":"black","interpolate":"linear"},
  "encoding":{
   "x":{"field":"x","type":"quantitative","scale":{"domain":[0,1023],"nice":false,"zero":false},"axis":{"values":[0,100,200,300,400,500,600,700,800,900,1000],"labelExpr":"datum.value<1 ? '0' : ''","labelFlush":true,"labelOverlap":false,"labelBound":false,"title":"FL2 LIN","titlePadding":8,"labelPadding":-2}},
   "y":{"field":"y","type":"quantitative","scale":{"domain":[0,400],"nice":false},"axis":{"values":[0,100,200,300,400],"labelExpr":"datum.value==400 ? '400' : ''","labelAngle":270,"labelAlign":"center","labelBaseline":"bottom","labelOffset":10,"labelPadding":4,"title":null}}}},
 {"transform":[{"filter":"datum.k=='a'"}],"mark":{"type":"text","align":"right","baseline":"top","dy":1,"font":"Liberation Serif","fontWeight":"bold","fontSize":6.5,"color":"black"},
  "encoding":{"x":{"datum":1023},"y":{"datum":0},"text":{"value":"1023"}}},
 {"transform":[{"filter":"datum.k=='a' && datum.c=='EGC'"}],"mark":{"type":"text","align":"left","baseline":"top","font":"Liberation Sans","fontWeight":"bold","fontSize":14.2,"lineHeight":17.5,"lineBreak":"\n","color":"black"},
  "encoding":{"x":{"datum":298},"y":{"datum":376},"text":{"field":"t"}}},
 {"transform":[{"filter":"datum.k=='a' && datum.c!='EGC'"}],"mark":{"type":"text","align":"left","baseline":"top","font":"Liberation Sans","fontWeight":"bold","fontSize":15.2,"lineHeight":17.5,"lineBreak":"\n","color":"black"},
  "encoding":{"x":{"datum":372},"y":{"datum":376},"text":{"field":"t"}}},
 {"transform":[{"filter":"datum.k=='p'"}],"mark":{"type":"text","align":"center","baseline":"middle","font":"Liberation Sans","fontWeight":"bold","fontSize":13,"color":"black"},
  "encoding":{"x":{"field":"x","type":"quantitative"},"y":{"field":"y","type":"quantitative"},"text":{"field":"t"}}}
]},
"resolve":{"axis":{"x":"independent","y":"independent"}}
},
{
"data":{"name":"d"},
"transform":[{"filter":"datum.r=='48h'"}],
"title":{"text":"FL2 LIN","orient":"bottom","anchor":"middle","font":"Liberation Sans","fontSize":17,"fontWeight":"bold","color":"black","offset":12,"dx":22},
"spacing":{"column":19,"row":0},
"facet":{
 "row":{"field":"r","type":"nominal","header":{"title":null,"labelAngle":0,"labelAlign":"right","labelFontSize":17,"labelPadding":-29}},
 "column":{"field":"c","type":"nominal","sort":["EGC","EGC+TcdB 0.1ng/ml","EGC+TcdB 1ng/ml","EGC+TcdB 10ng/ml"],"header":{"title":null,"labels":false}}
},
"spec":{"width":158,"height":125,"layer":[
 {"transform":[{"filter":"datum.k=='h'"}],"mark":{"type":"area","color":"black","interpolate":"linear"},
  "encoding":{
   "x":{"field":"x","type":"quantitative","scale":{"domain":[0,1023],"nice":false,"zero":false},"axis":{"values":[0,100,200,300,400,500,600,700,800,900,1000],"labelExpr":"datum.value<1 ? '0' : ''","labelFlush":true,"labelOverlap":false,"labelBound":false,"title":"FL2 LIN","titlePadding":8,"labelPadding":-2}},
   "y":{"field":"y","type":"quantitative","scale":{"domain":[0,550],"nice":false},"axis":{"values":[0,100,200,300,400,500,550],"labelExpr":"datum.value==550 ? '550' : ''","labelAngle":270,"labelAlign":"center","labelBaseline":"bottom","labelOffset":10,"labelPadding":4,"title":null}}}},
 {"transform":[{"filter":"datum.k=='a'"}],"mark":{"type":"text","align":"right","baseline":"top","dy":1,"font":"Liberation Serif","fontWeight":"bold","fontSize":6.5,"color":"black"},
  "encoding":{"x":{"datum":1023},"y":{"datum":0},"text":{"value":"1023"}}},
 {"transform":[{"filter":"datum.k=='a' && datum.c=='EGC'"}],"mark":{"type":"text","align":"left","baseline":"top","font":"Liberation Sans","fontWeight":"bold","fontSize":14.2,"lineHeight":17.5,"lineBreak":"\n","color":"black"},
  "encoding":{"x":{"datum":298},"y":{"datum":516},"text":{"field":"t"}}},
 {"transform":[{"filter":"datum.k=='a' && datum.c!='EGC'"}],"mark":{"type":"text","align":"left","baseline":"top","font":"Liberation Sans","fontWeight":"bold","fontSize":15.2,"lineHeight":17.5,"lineBreak":"\n","color":"black"},
  "encoding":{"x":{"datum":372},"y":{"datum":516},"text":{"field":"t"}}},
 {"transform":[{"filter":"datum.k=='p'"}],"mark":{"type":"text","align":"center","baseline":"middle","font":"Liberation Sans","fontWeight":"bold","fontSize":13,"color":"black"},
  "encoding":{"x":{"field":"x","type":"quantitative"},"y":{"field":"y","type":"quantitative"},"text":{"field":"t"}}}
]},
"resolve":{"axis":{"x":"independent","y":"independent"}}
}
],
"config":{
 "view":{"stroke":"black","strokeWidth":1.3},
 "font":"Liberation Sans",
 "axis":{"labelFont":"Liberation Serif","labelFontSize":6.5,"labelFontWeight":"bold","labelColor":"black","tickColor":"black","tickSize":3,"tickWidth":1,"domain":false,"grid":false,"titleFont":"Liberation Serif","titleFontSize":6,"titleFontWeight":"bold","titleColor":"black","labelOverlap":false},
 "header":{"labelFont":"Liberation Sans","labelFontWeight":"bold","labelColor":"black"}
}
}
